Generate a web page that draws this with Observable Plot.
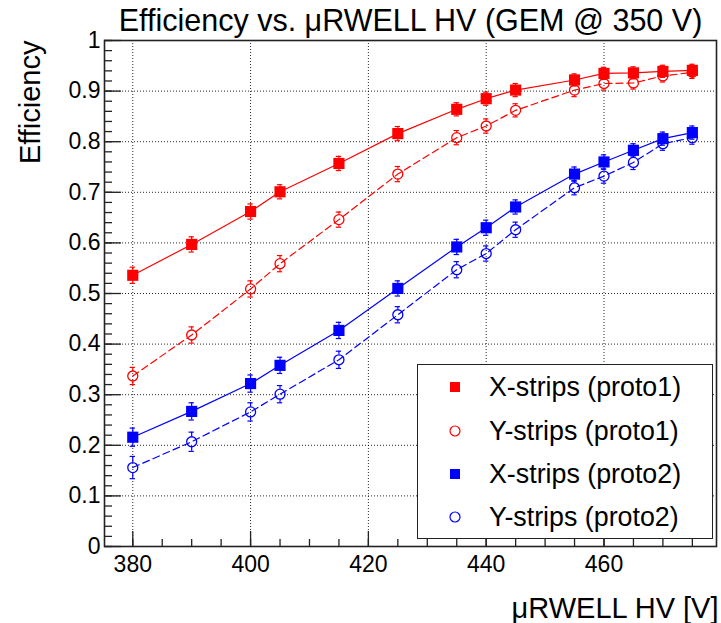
<!DOCTYPE html>
<html>
<head>
<meta charset="utf-8">
<script src="https://cdn.jsdelivr.net/npm/d3@7"></script>
<script src="https://cdn.jsdelivr.net/npm/@observablehq/plot@0.6"></script>
<style>
  body { margin: 0; background: #fff; }
  #wrap { position: relative; width: 721px; height: 623px; font-family: "Liberation Sans", Arial, Helvetica, sans-serif; }
  #legend { position: absolute; left: 417px; top: 364px; width: 296px; height: 175px; border: 1.5px solid #222; background: #fff; box-sizing: border-box; }
  .row { position: absolute; left: 0; width: 100%; height: 30px; line-height: 30px; font-size: 26.8px; color: #000; white-space: nowrap; }
  .row .txt { position: absolute; left: 71px; top: 0; }
  .row svg { position: absolute; left: 30px; top: 8px; }
</style>
</head>
<body>
<div id="wrap"><div id="legend"></div></div>
<script>
// ---- data ----
const hv = [380, 390, 400, 405, 415, 425, 435, 440, 445, 455, 460, 465, 470, 475];

const xStripsProto1 = [0.536, 0.597, 0.662, 0.701, 0.757, 0.816, 0.864, 0.885, 0.902, 0.922, 0.935, 0.936, 0.939, 0.941];
const yStripsProto1 = [0.337, 0.418, 0.509, 0.559, 0.646, 0.736, 0.808, 0.831, 0.862, 0.902, 0.915, 0.916, 0.930, 0.937];
const xStripsProto2 = [0.216, 0.267, 0.322, 0.358, 0.427, 0.510, 0.592, 0.630, 0.671, 0.736, 0.760, 0.783, 0.806, 0.818];
const yStripsProto2 = [0.156, 0.207, 0.266, 0.301, 0.369, 0.458, 0.547, 0.579, 0.626, 0.709, 0.732, 0.759, 0.796, 0.808];

const errXProto1 = [0.016, 0.015, 0.015, 0.014, 0.014, 0.014, 0.013, 0.013, 0.013, 0.012, 0.012, 0.012, 0.012, 0.012];
const errYProto1 = [0.017, 0.016, 0.016, 0.016, 0.015, 0.015, 0.014, 0.014, 0.013, 0.013, 0.013, 0.012, 0.012, 0.012];
const errXProto2 = [0.018, 0.017, 0.017, 0.016, 0.016, 0.015, 0.015, 0.015, 0.014, 0.014, 0.014, 0.013, 0.013, 0.013];
const errYProto2 = [0.022, 0.019, 0.018, 0.017, 0.017, 0.016, 0.016, 0.015, 0.015, 0.014, 0.014, 0.014, 0.013, 0.013];

const seriesNames = ["X-strips (proto1)", "Y-strips (proto1)", "X-strips (proto2)", "Y-strips (proto2)"];

const xMajorTicks = [380, 400, 420, 440, 460];
const xMinorTicks = [380, 385, 390, 395, 400, 405, 410, 415, 420, 425, 430, 435, 440, 445, 450, 455, 460, 465, 470, 475];
const yMajorTicks = [0, 0.1, 0.2, 0.3, 0.4, 0.5, 0.6, 0.7, 0.8, 0.9, 1];
const yGridTicks = [0.1, 0.2, 0.3, 0.4, 0.5, 0.6, 0.7, 0.8, 0.9];
const yMinorTicks = d3.range(0, 51).map(i => +(i * 0.02).toFixed(2));

const titleText = "Efficiency vs. \u03BCRWELL HV (GEM @ 350 V)";
const xTitle = "\u03BCRWELL HV [V]";
const yTitle = "Efficiency";

// ---- styles ----
const RED = "#ff0000", BLUE = "#0000ff";
const series = [
  {name: seriesNames[0], vals: xStripsProto1, errs: errXProto1, color: RED, filled: true},
  {name: seriesNames[1], vals: yStripsProto1, errs: errYProto1, color: RED, filled: false},
  {name: seriesNames[2], vals: xStripsProto2, errs: errXProto2, color: BLUE, filled: true},
  {name: seriesNames[3], vals: yStripsProto2, errs: errYProto2, color: BLUE, filled: false}
];

const FONT = "Liberation Sans, Arial, Helvetica, sans-serif";
const marks = [];

// grid
marks.push(Plot.gridX(xMajorTicks, {stroke: "#000", strokeOpacity: 0.85, strokeWidth: 1, strokeDasharray: "1,2"}));
marks.push(Plot.gridY(yGridTicks, {stroke: "#000", strokeOpacity: 0.85, strokeWidth: 1, strokeDasharray: "1,2"}));

for (const s of series) {
  const data = hv.map((x, i) => ({x, y: s.vals[i], e: s.errs[i]}));
  const gap = s.filled ? 0 : 5;
  marks.push(Plot.line(data, {x: "x", y: "y", stroke: s.color, strokeWidth: 1.2, strokeDasharray: s.filled ? null : "7,4"}));
  // error bars (outside the marker)
  marks.push(Plot.ruleX(data, {x: "x", y1: d => d.y + d.e, y2: d => d.y, insetBottom: gap, stroke: s.color, strokeWidth: 1.2}));
  marks.push(Plot.ruleX(data, {x: "x", y1: d => d.y, y2: d => d.y - d.e, insetTop: gap, stroke: s.color, strokeWidth: 1.2}));
  marks.push(Plot.ruleY(data, {y: d => d.y + d.e, x1: d => d.x - 0.45, x2: d => d.x + 0.45, stroke: s.color, strokeWidth: 1.2}));
  marks.push(Plot.ruleY(data, {y: d => d.y - d.e, x1: d => d.x - 0.45, x2: d => d.x + 0.45, stroke: s.color, strokeWidth: 1.2}));
  if (s.filled) {
    marks.push(Plot.dot(data, {x: "x", y: "y", symbol: "square", r: 6.3, fill: s.color, stroke: "none"}));
  } else {
    marks.push(Plot.dot(data, {x: "x", y: "y", symbol: "circle", r: 5, fill: "none", stroke: s.color, strokeWidth: 1.3}));
  }
}

// axes: labels
marks.push(Plot.axisY(yMajorTicks, {tickSize: 0, tickPadding: 4, fontSize: 23, tickFormat: d => String(+(+d).toFixed(1)), label: null, fill: "#000"}));
marks.push(Plot.axisX(xMajorTicks, {tickSize: 0, tickPadding: 9, fontSize: 23, tickFormat: d => String(d), label: null, fill: "#000"}));
// inward ticks
marks.push(Plot.axisY(yMajorTicks, {tickSize: -17, tickFormat: () => "", label: null, stroke: "#222", strokeWidth: 1.3}));
marks.push(Plot.axisY(yMinorTicks, {tickSize: -8, tickFormat: () => "", label: null, stroke: "#222", strokeWidth: 1.3}));
marks.push(Plot.axisX(xMajorTicks, {tickSize: -15, tickFormat: () => "", label: null, stroke: "#222", strokeWidth: 1.3}));
marks.push(Plot.axisX(xMinorTicks, {tickSize: -7, tickFormat: () => "", label: null, stroke: "#222", strokeWidth: 1.3}));

marks.push(Plot.frame({stroke: "#222", strokeWidth: 1.6}));

// titles
marks.push(Plot.text([titleText], {frameAnchor: "top", lineAnchor: "bottom", dy: -9.5, fontSize: 30.5, text: d => d, fill: "#000"}));
marks.push(Plot.text([xTitle], {frameAnchor: "bottom-right", textAnchor: "end", lineAnchor: "bottom", dx: 2, dy: 71, fontSize: 29, text: d => d, fill: "#000"}));
marks.push(Plot.text([yTitle], {frameAnchor: "top-left", textAnchor: "end", lineAnchor: "bottom", rotate: -90, dx: -65, dy: 0, fontSize: 29, text: d => d, fill: "#000"}));

const plot = Plot.plot({
  width: 721,
  height: 623,
  marginTop: 40,
  marginRight: 5,
  marginBottom: 77,
  marginLeft: 104,
  style: {fontFamily: FONT, fontSize: "23px", background: "#fff", color: "#000"},
  x: {domain: [375.2, 479.1], label: null},
  y: {domain: [0, 1], label: null},
  marks
});
document.getElementById("wrap").prepend(plot);

// legend
const legend = document.getElementById("legend");
const rowCenters = [22, 66, 109, 152];
series.forEach((s, i) => {
  const row = document.createElement("div");
  row.className = "row";
  row.style.top = (rowCenters[i] - 15) + "px";
  const marker = s.filled
    ? `<svg width="14" height="14"><rect x="2" y="2" width="10" height="10" fill="${s.color}"/></svg>`
    : `<svg width="14" height="14"><circle cx="7" cy="7" r="5" fill="none" stroke="${s.color}" stroke-width="1.2"/></svg>`;
  row.innerHTML = marker + `<span class="txt">${s.name}</span>`;
  legend.appendChild(row);
});
</script>
</body>
</html>
